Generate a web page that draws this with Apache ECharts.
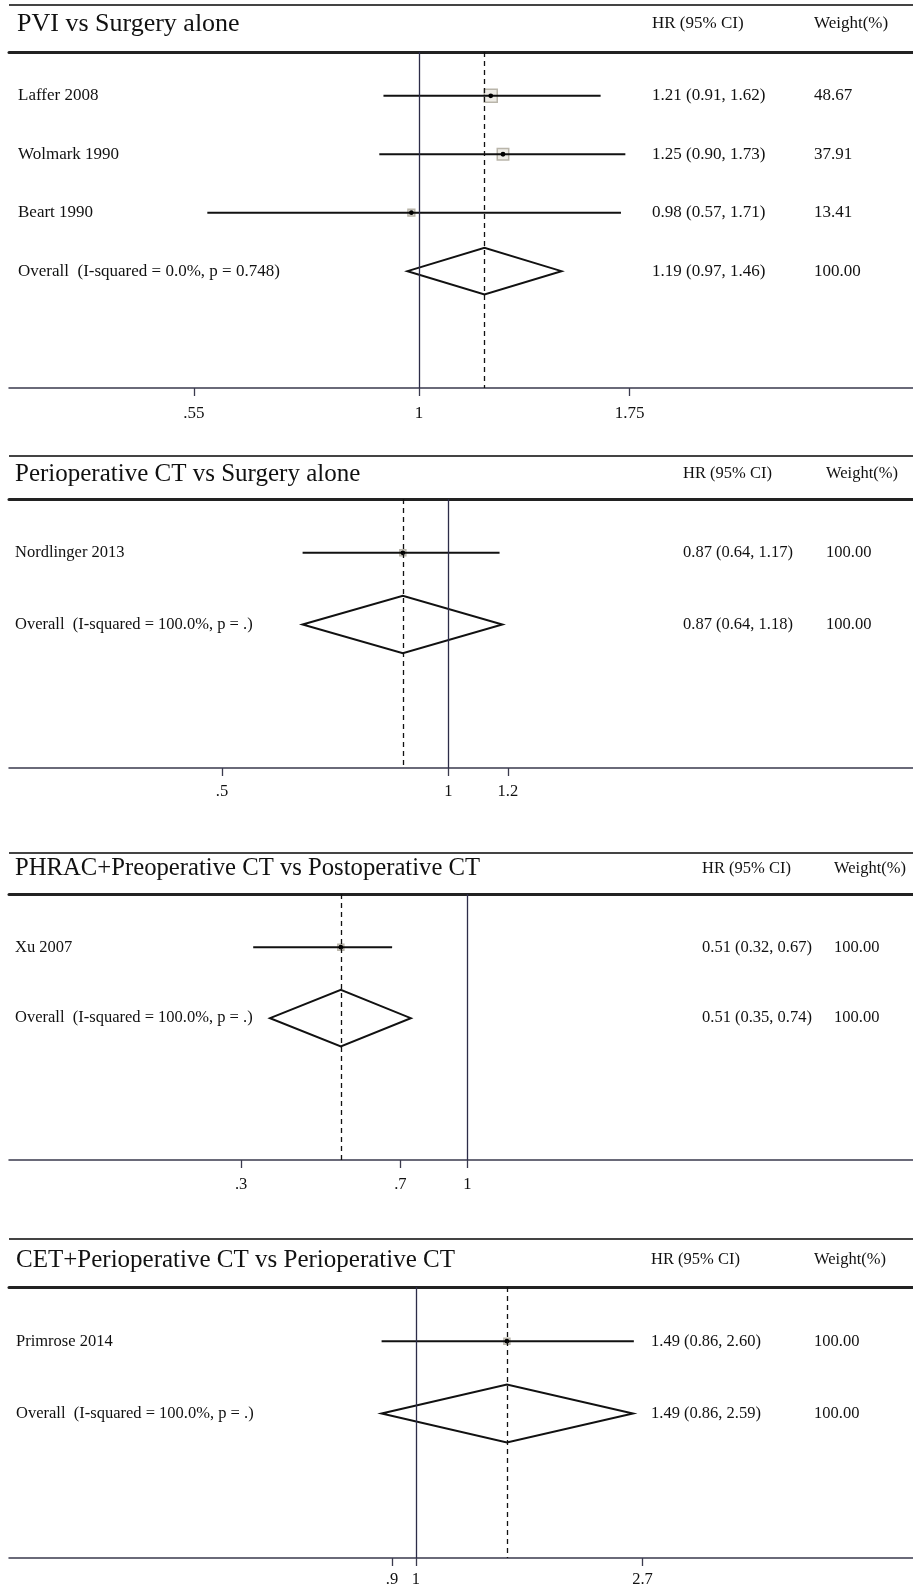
<!DOCTYPE html>
<html>
<head>
<meta charset="utf-8">
<script src="https://cdn.jsdelivr.net/npm/echarts@6/dist/echarts.min.js"></script>
<style>
html,body{margin:0;padding:0;background:#fff;}
#chart{width:913px;height:1591px;}
</style>
</head>
<body>
<div id="chart"></div>
<script>
// ---------------- DATA ----------------
const panelTitles = [
  'PVI vs Surgery alone',
  'Perioperative CT vs Surgery alone',
  'PHRAC+Preoperative CT vs Postoperative CT',
  'CET+Perioperative CT vs Perioperative CT'
];
const hrHeader = 'HR (95% CI)';
const weightHeader = 'Weight(%)';

const studies1 = ['Laffer 2008', 'Wolmark 1990', 'Beart 1990', 'Overall  (I-squared = 0.0%, p = 0.748)'];
const hr1 = [1.21, 1.25, 0.98, 1.19];
const lo1 = [0.91, 0.90, 0.57, 0.97];
const hi1 = [1.62, 1.73, 1.71, 1.46];
const weight1 = [48.67, 37.91, 13.41, 100.00];
const overall1 = [false, false, false, true];
const ticks1 = [0.55, 1, 1.75];
const tickLabels1 = ['.55', '1', '1.75'];

const studies2 = ['Nordlinger 2013', 'Overall  (I-squared = 100.0%, p = .)'];
const hr2 = [0.87, 0.87];
const lo2 = [0.64, 0.64];
const hi2 = [1.17, 1.18];
const weight2 = [100.00, 100.00];
const overall2 = [false, true];
const ticks2 = [0.5, 1, 1.2];
const tickLabels2 = ['.5', '1', '1.2'];

const studies3 = ['Xu 2007', 'Overall  (I-squared = 100.0%, p = .)'];
const hr3 = [0.51, 0.51];
const lo3 = [0.32, 0.35];
const hi3 = [0.67, 0.74];
const weight3 = [100.00, 100.00];
const overall3 = [false, true];
const ticks3 = [0.3, 0.7, 1];
const tickLabels3 = ['.3', '.7', '1'];

const studies4 = ['Primrose 2014', 'Overall  (I-squared = 100.0%, p = .)'];
const hr4 = [1.49, 1.49];
const lo4 = [0.86, 0.86];
const hi4 = [2.60, 2.59];
const weight4 = [100.00, 100.00];
const overall4 = [false, true];
const ticks4 = [0.9, 1, 2.7];
const tickLabels4 = ['.9', '1', '2.7'];

// ---------------- LAYOUT / STYLE ----------------
const FONT = '"Liberation Serif", "Times New Roman", serif';
const panels = [
  {title: panelTitles[0], studies: studies1, hr: hr1, lo: lo1, hi: hi1, w: weight1, ov: overall1, ticks: ticks1, tickLabels: tickLabels1,
   ruleY: 5, titleY: 24, titleX: 17, titleSize: 26, gridTop: 52, gridBottom: 388, xMin: 0.3366, xMax: 3.714,
   labelX: 18, hrX: 652, wX: 814, fs: 17, tickMargin: 17, boxScale: 1.86},
  {title: panelTitles[1], studies: studies2, hr: hr2, lo: lo2, hi: hi2, w: weight2, ov: overall2, ticks: ticks2, tickLabels: tickLabels2,
   ruleY: 456, titleY: 474, titleX: 15, titleSize: 25, gridTop: 499, gridBottom: 768, xMin: 0.2604, xMax: 4.151,
   labelX: 15, hrX: 683, wX: 826, fs: 16.5, tickMargin: 15, boxScale: 0.6},
  {title: panelTitles[2], studies: studies3, hr: hr3, lo: lo3, hi: hi3, w: weight3, ov: overall3, ticks: ticks3, tickLabels: tickLabels3,
   ruleY: 853, titleY: 869, titleX: 15, titleSize: 24.7, gridTop: 894, gridBottom: 1160, xMin: 0.0873, xMax: 10.70,
   labelX: 15, hrX: 702, wX: 834, fs: 16.5, tickMargin: 16, boxScale: 0.6},
  {title: panelTitles[3], studies: studies4, hr: hr4, lo: lo4, hi: hi4, w: weight4, ov: overall4, ticks: ticks4, tickLabels: tickLabels4,
   ruleY: 1239, titleY: 1260, titleX: 16, titleSize: 25, gridTop: 1287, gridBottom: 1558, xMin: 0.1678, xMax: 8.845,
   labelX: 16, hrX: 651, wX: 814, fs: 16.5, tickMargin: 13, boxScale: 0.6}
];

const option = {
  animation: false,
  backgroundColor: '#ffffff',
  grid: [], xAxis: [], yAxis: [], series: [], graphic: []
};

panels.forEach((P, k) => {
  const n = P.studies.length;
  option.grid.push({left: 9, right: 0, top: P.gridTop, height: P.gridBottom - P.gridTop});
  const fmt = (v) => {
    let best = 0, bd = Infinity;
    P.ticks.forEach((t, i) => { const d = Math.abs(t - v); if (d < bd) { bd = d; best = i; } });
    return P.tickLabels[best];
  };
  // bottom axis
  option.xAxis.push({
    gridIndex: k, type: 'log', logBase: Math.E, min: P.xMin, max: P.xMax, position: 'bottom',
    axisLine: {show: true, lineStyle: {color: '#3a3a4e', width: 1.5}},
    axisTick: {show: true, customValues: P.ticks, length: 8, inside: false, lineStyle: {color: '#3a3a4e', width: 1.3}},
    axisLabel: {show: true, customValues: P.ticks, formatter: fmt, margin: P.tickMargin,
      fontFamily: FONT, fontSize: P.fs, color: '#111'},
    splitLine: {show: false}, minorTick: {show: false}
  });
  // top axis (thick header rule)
  option.xAxis.push({
    gridIndex: k, type: 'log', logBase: Math.E, min: P.xMin, max: P.xMax, position: 'top',
    axisLine: {show: true, lineStyle: {color: '#222', width: 3}},
    axisTick: {show: false}, axisLabel: {show: false}, splitLine: {show: false}
  });
  option.yAxis.push({gridIndex: k, type: 'value', inverse: true, min: 0.25, max: n + 2, show: false});

  const rows = P.studies.map((s, i) => [P.lo[i], P.hi[i], P.hr[i], i + 1, P.w[i], P.ov[i] ? 1 : 0]);
  const overallEst = P.hr[P.ov.indexOf(true)];

  option.series.push({
    type: 'custom', xAxisIndex: 2 * k, yAxisIndex: k, clip: false, silent: true,
    encode: {x: [0, 1], y: 3},
    data: rows,
    renderItem: (params, api) => {
      const lo = api.value(0), hi = api.value(1), est = api.value(2), row = api.value(3), w = api.value(4), ov = api.value(5);
      if (ov) {
        const h = 0.4;
        return {
          type: 'polygon',
          shape: {points: [api.coord([lo, row]), api.coord([est, row - h]), api.coord([hi, row]), api.coord([est, row + h])]},
          style: {fill: 'none', stroke: '#111', lineWidth: 2}
        };
      }
      const a = api.coord([lo, row]), b = api.coord([hi, row]), c = api.coord([est, row]);
      const side = P.boxScale * Math.sqrt(w);
      return {
        type: 'group',
        children: [
          {type: 'rect', shape: {x: c[0] - side / 2, y: c[1] - side / 2, width: side, height: side},
           style: {fill: '#eeece6', stroke: '#b9b5aa', lineWidth: 1.5}},
          {type: 'line', shape: {x1: a[0], y1: a[1], x2: b[0], y2: b[1]}, style: {stroke: '#111', lineWidth: 2}},
          {type: 'circle', shape: {cx: c[0], cy: c[1], r: 2.4}, style: {fill: '#000'}}
        ]
      };
    },
    markLine: {
      silent: true, symbol: 'none', label: {show: false},
      data: [
        {xAxis: 1, lineStyle: {type: 'solid', color: '#2c2c48', width: 1.3}},
        {xAxis: overallEst, lineStyle: {type: [5, 4], color: '#111', width: 1.3}}
      ]
    },
    z: 3
  });

  // text columns
  option.series.push({
    type: 'custom', xAxisIndex: 2 * k, yAxisIndex: k, clip: false, silent: true,
    encode: {x: 0, y: 3},
    data: rows,
    renderItem: (params, api) => {
      const i = params.dataIndex;
      const lo = api.value(0), hi = api.value(1), est = api.value(2), row = api.value(3), w = api.value(4);
      const y = api.coord([1, row])[1];
      const font = P.fs + 'px ' + FONT;
      const mk = (x, text) => ({type: 'text', x: x, y: y,
        style: {text: text, font: font, fill: '#111', align: 'left', verticalAlign: 'middle'}});
      return {type: 'group', children: [
        mk(P.labelX, P.studies[i]),
        mk(P.hrX, est.toFixed(2) + ' (' + lo.toFixed(2) + ', ' + hi.toFixed(2) + ')'),
        mk(P.wX, w.toFixed(2))
      ]};
    }
  });

  // decorative rules and headings
  option.graphic.push(
    {type: 'line', shape: {x1: 9, y1: P.ruleY, x2: 913, y2: P.ruleY}, style: {stroke: '#444', lineWidth: 2}, silent: true},
    {type: 'text', x: P.titleX, y: P.titleY, style: {text: P.title, font: P.titleSize + 'px ' + FONT, fill: '#111', align: 'left', verticalAlign: 'middle'}, silent: true},
    {type: 'text', x: P.hrX, y: P.titleY, style: {text: hrHeader, font: P.fs + 'px ' + FONT, fill: '#111', align: 'left', verticalAlign: 'middle'}, silent: true},
    {type: 'text', x: P.wX, y: P.titleY, style: {text: weightHeader, font: P.fs + 'px ' + FONT, fill: '#111', align: 'left', verticalAlign: 'middle'}, silent: true}
  );
});

const chart = echarts.init(document.getElementById('chart'), null, {renderer: 'canvas'});
chart.setOption(option);
</script>
</body>
</html>
